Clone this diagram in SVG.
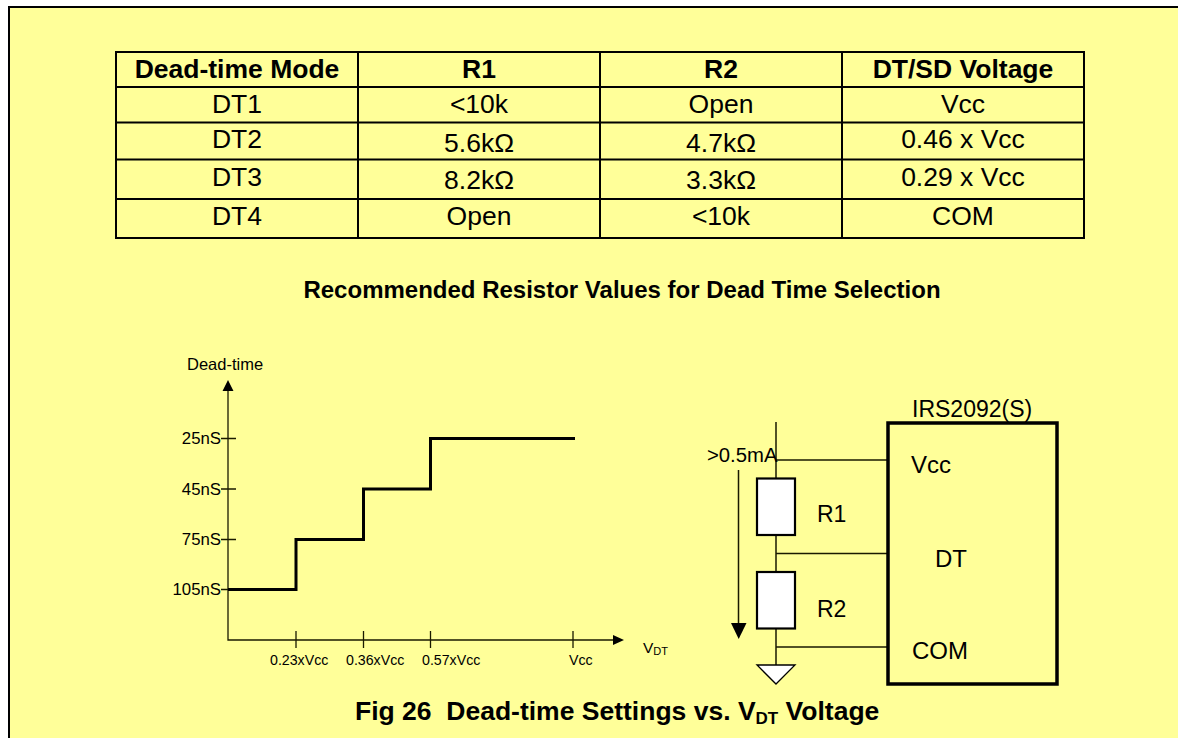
<svg xmlns="http://www.w3.org/2000/svg" width="1178" height="738" viewBox="0 0 1178 738">
<style>
text{font-family:"Liberation Sans",Arial,sans-serif;fill:#000}
.t{font-size:26.5px;text-anchor:middle}
.b{font-size:26.500px;font-weight:bold;text-anchor:middle}
.g{stroke:#000;stroke-width:2;fill:none}
.a{stroke:#1a1a00;stroke-width:1.3;fill:none}
.s{font-size:16.8px;text-anchor:end}
.x{font-size:14.2px}
.c{font-size:24px}
.w{stroke:#1a1a00;stroke-width:1.5;fill:none}
.r{fill:#fff;stroke:#000;stroke-width:2.2}
</style>
<rect width="1178" height="738" fill="#fff"/>
<rect x="9" y="7" width="1169" height="731" fill="#ff9"/>
<path d="M1178 7H9V738" fill="none" stroke="#000" stroke-width="2"/>
<g id="table">
<rect x="116" y="52" width="968" height="186" class="g"/>
<path class="g" d="M116 87H1084M116 122.500H1084M116 159.500H1084M116 199H1084M358 52V238M600 52V238M842 52V238"/>
<text class="b" x="237" y="78">Dead-time Mode</text><text class="b" x="479" y="78">R1</text><text class="b" x="721" y="78">R2</text><text class="b" x="963" y="78">DT/SD Voltage</text>
<text class="t" x="237" y="113">DT1</text><text class="t" x="479" y="113">&lt;10k</text><text class="t" x="721" y="113">Open</text><text class="t" x="963" y="113">Vcc</text>
<text class="t" x="237" y="148">DT2</text><text class="t" x="479" y="151.500">5.6kΩ</text><text class="t" x="721" y="151.500">4.7kΩ</text><text class="t" x="963" y="148">0.46 x Vcc</text>
<text class="t" x="237" y="185.500">DT3</text><text class="t" x="479" y="189">8.2kΩ</text><text class="t" x="721" y="189">3.3kΩ</text><text class="t" x="963" y="185.500">0.29 x Vcc</text>
<text class="t" x="237" y="225">DT4</text><text class="t" x="479" y="225">Open</text><text class="t" x="721" y="225">&lt;10k</text><text class="t" x="963" y="225">COM</text>
</g>
<text x="622" y="298" font-size="24" font-weight="bold" text-anchor="middle">Recommended Resistor Values for Dead Time Selection</text>
<g id="chart">
<path class="a" d="M228 390V640H613M221 438.500H236M221 489H236M221 539.500H236M221 589.500H236M296 631V648M363.500 631V648M430.500 631V648M573 631V648"/>
<path d="M228 380L233.500 391H222.500ZM624 640L613 635V645Z" fill="#000"/>
<path d="M228 589.500H296V539.500H363.500V489H430.500V438.500H575" fill="none" stroke="#000" stroke-width="3"/>
<text x="187" y="370" font-size="16.500">Dead-time</text>
<text class="s" x="221" y="444">25nS</text><text class="s" x="221" y="495">45nS</text><text class="s" x="221" y="545">75nS</text><text class="s" x="221" y="595">105nS</text>
<text class="x" x="270" y="665">0.23xVcc</text><text class="x" x="346" y="665">0.36xVcc</text><text class="x" x="422" y="665">0.57xVcc</text><text class="x" x="569" y="665">Vcc</text>
<text x="643" y="653" font-size="15.500">V<tspan font-size="11" dy="2">DT</tspan></text>
</g>
<g id="connectors">
<path class="w" d="M776 422V665M776 460H888M776 553.500H888M776 647H888M738.500 470V625"/>
<path d="M731 623H746.500L738.700 639Z" fill="#000"/>
</g>
<g id="R1"><rect class="r" x="757" y="478.500" width="38" height="56.500"/><text class="c" x="817" y="522" style="font-size:23px">R1</text></g>
<g id="R2"><rect class="r" x="757" y="572" width="38" height="56.500"/><text class="c" x="817" y="616.500" style="font-size:23px">R2</text></g>
<g id="ground"><path class="r" style="stroke-width:1.300" d="M757 665H795L776 684Z"/></g>
<g id="ic">
<rect x="888" y="423" width="169" height="261" fill="none" stroke="#000" stroke-width="3.500"/>
<text class="c" x="912" y="417" style="font-size:23px">IRS2092(S)</text><text class="c" x="911" y="473">Vcc</text><text class="c" x="935" y="566.500">DT</text><text class="c" x="912" y="659">COM</text>
</g>
<text x="707" y="461.500" font-size="20.300">&gt;0.5mA</text>
<text x="355" y="720" font-size="26.500" font-weight="bold">Fig 26&#160; Dead-time Settings vs. V<tspan font-size="17" dy="4">DT</tspan><tspan dy="-4"> Voltage</tspan></text>
</svg>
